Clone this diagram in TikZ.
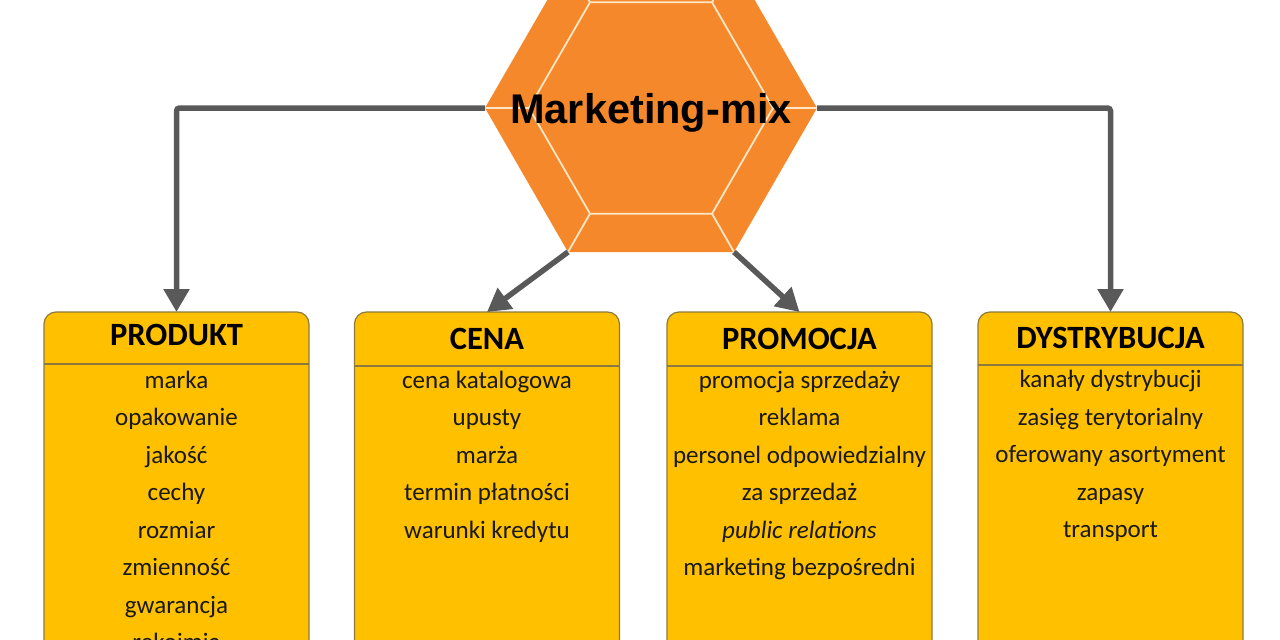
\documentclass[tikz,border=0pt]{standalone}
\usepackage{fontspec}
\setmainfont{Carlito}
\newfontfamily\titlefont{Liberation Sans}
\usetikzlibrary{arrows.meta,calc}
\definecolor{hexor}{HTML}{F5882A}
\definecolor{boxfill}{HTML}{FFC000}
\definecolor{boxline}{HTML}{8C7A3C}
\definecolor{arrowgray}{HTML}{595959}
\definecolor{bevel}{HTML}{FFE6C8}
\begin{document}
\begin{tikzpicture}[x=1pt,y=-1pt,
 catbox/.style={draw=boxline, line width=1.2pt, fill=boxfill, rounded corners=12pt, minimum width=265pt, minimum height=420pt, inner sep=0pt, outer sep=0pt, anchor=north},
 conn/.style={draw=arrowgray, line width=5.5pt, -{Triangle[length=23pt,width=25pt]}},
 head/.style={font=\bfseries\fontsize{32.5}{32.5}\selectfont, anchor=base, inner sep=0pt},
 item/.style={font=\fontsize{25}{25}\selectfont, anchor=base, inner sep=0pt, text=black!90},
 sepline/.style={draw=boxline, line width=1.2pt},
 bevelline/.style={draw=bevel, line width=1.8pt}]
\useasboundingbox (0,0) rectangle (1280,640);
\clip (0,0) rectangle (1280,640);

% hexagon
\coordinate (hexR) at (817,108);
\coordinate (hexTR) at (734,-35.8);
\coordinate (hexTL) at (568,-35.8);
\coordinate (hexL) at (485,108);
\coordinate (hexBL) at (568,252);
\coordinate (hexBR) at (734,252);
\coordinate (iR) at (773,108);
\coordinate (iTR) at (712,2.3);
\coordinate (iTL) at (590,2.3);
\coordinate (iL) at (529,108);
\coordinate (iBL) at (590,213.7);
\coordinate (iBR) at (712,213.7);
\fill[hexor] (hexR) -- (hexTR) -- (hexTL) -- (hexL) -- (hexBL) -- (hexBR) -- cycle;
\draw[bevelline] (iR) -- (iTR) -- (iTL) -- (iL) -- (iBL) -- (iBR) -- cycle;
\foreach \a/\b in {hexR/iR,hexTR/iTR,hexTL/iTL,hexL/iL,hexBL/iBL,hexBR/iBR}
  \draw[bevelline] (\a) -- (\b);
\node[font=\titlefont\bfseries\fontsize{41.5}{41.5}\selectfont, anchor=base, inner sep=0pt] (title) at (651,123.5) {Marketing-mix};

% boxes
\node[catbox] (prod) at (176.5,312) {};
\node[catbox] (cena) at (487,312) {};
\node[catbox] (prom) at (799.5,312) {};
\node[catbox] (dyst) at (1110.5,312) {};

\draw[sepline] (44,364) -- (309,364);
\draw[sepline] (354.5,366) -- (619.5,366);
\draw[sepline] (667,366) -- (932,366);
\draw[sepline] (978,365) -- (1243,365);

\node[head] (prodh) at (176.5,345) {PRODUKT};
\node[head] (cenah) at (487,349.5) {CENA};
\node[head] (promh) at (799.5,349.5) {PROMOCJA};
\node[head] (dysth) at (1110.5,348.5) {DYSTRYBUCJA};

\foreach \t [count=\i from 0] in {marka,opakowanie,jakość,cechy,rozmiar,zmienność,gwarancja,rękojmia}
  \node[item] (prod-\i) at (176.5,388+37.5*\i) {\t};
\foreach \t [count=\i from 0] in {cena katalogowa,upusty,marża,termin płatności,warunki kredytu}
  \node[item] (cena-\i) at (487,388+37.5*\i) {\t};
\foreach \t [count=\i from 0] in {promocja sprzedaży,reklama,personel odpowiedzialny,za sprzedaż,{\textit{public relations}},marketing bezpośredni}
  \node[item] (prom-\i) at (799.5,388+37.5*\i) {\t};
\foreach \t [count=\i from 0] in {kanały dystrybucji,zasięg terytorialny,oferowany asortyment,zapasy,transport}
  \node[item] (dyst-\i) at (1110.5,387.5+37.5*\i) {\t};

% connectors
\draw[conn, rounded corners=3pt] (hexL) -| (prod.north);
\draw[conn, rounded corners=3pt] (hexR) -| (dyst.north);
\draw[conn] (hexBL) -- (cena.north);
\draw[conn] (hexBR) -- (prom.north);
\end{tikzpicture}
\end{document}
